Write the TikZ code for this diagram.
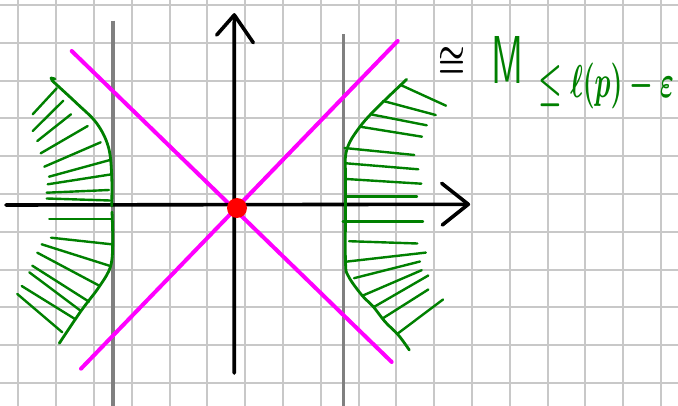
\documentclass[tikz,border=0pt]{standalone}
\usepackage{graphicx}
\definecolor{gridc}{RGB}{200,200,200}
\definecolor{guidec}{RGB}{128,128,128}
\definecolor{conec}{RGB}{255,0,255}
\definecolor{pgreen}{RGB}{0,128,0}
\definecolor{dotc}{RGB}{255,0,0}
\begin{document}
\begin{tikzpicture}[x=1pt,y=-1pt,
  gridline/.style={draw=gridc,line width=2pt},
  axisline/.style={draw=black,line width=3.6pt,line cap=round,line join=round},
  guideline/.style={draw=guidec,line width=3.6pt},
  coneline/.style={draw=conec,line width=4pt,line cap=round},
  bdry/.style={draw=pgreen,line width=2.8pt,line cap=round,line join=round},
  hatchline/.style={draw=pgreen,line width=2.4pt,line cap=round},
  lbl/.style={inner sep=0pt,outer sep=0pt}]
\useasboundingbox (0,0) rectangle (678,406);
\fill[white] (0,0) rectangle (678,406);
% grid
\foreach \i in {0,...,17} \draw[gridline] ({18.3+37.8*\i},0) -- ({18.3+37.8*\i},406);
\foreach \j in {0,...,10} \draw[gridline] (0,{5+37.8*\j}) -- (678,{5+37.8*\j});
% gray vertical guides
\draw[guideline] (112.7,20.7) -- (112.7,406);
\draw[guideline] (343.5,34.3) -- (343.5,406);
% magenta cone
\draw[coneline] (71.7,51) -- (391.7,362);
\draw[coneline] (81,368.7) -- (397.7,41);
% axes
\draw[axisline] (6,205) -- (468.3,204.3);
\draw[axisline] (441.7,183.3) -- (468.3,204.3) -- (442.3,225);
\draw[axisline] (234.2,373) -- (234.3,15);
\draw[axisline] (216.7,35) -- (234.3,15) -- (253.3,42.7);
% left boundary curves
\draw[bdry] (55,79) -- (51,78) -- (52.5,81);
\draw[bdry] plot[smooth,tension=0.6] coordinates {(52.5,81) (76.7,103.3) (96.7,123.3) (108.3,146.7) (111.7,175) (111.7,206)};
\draw[bdry] plot[smooth,tension=0.6] coordinates {(112,212) (112.7,241.5) (110.5,266.5) (99,287) (81,311) (59.3,343.3)};
% left hatches (top)
\draw[hatchline] (56.7,88.3) -- (32.7,114.3);
\draw[hatchline] (63.3,100.7) -- (32.7,131);
\draw[hatchline] (71,114.3) -- (37.3,141);
\draw[hatchline] (87.7,126) -- (40.7,153.3);
\draw[hatchline] (100.7,142.3) -- (44.3,166.7);
\draw[hatchline] (110,160) -- (49,176.7);
\draw[hatchline] (111.7,174.3) -- (47.7,184.3);
\draw[hatchline] (109,190) -- (46.7,192.7);
\draw[hatchline] (110,200.5) -- (46.7,198.5);
% left hatches (bottom)
\draw[hatchline] (49.3,219) -- (111.7,219);
\draw[hatchline] (51,237.7) -- (111.7,244.3);
\draw[hatchline] (41.7,244.3) -- (109.3,265.7);
\draw[hatchline] (37.3,252.7) -- (99.3,285.7);
\draw[hatchline] (32.3,265.7) -- (89,301.7);
\draw[hatchline] (29.3,272.3) -- (81,311);
\draw[hatchline] (21.7,286) -- (75,319);
\draw[hatchline] (17.3,294) -- (62.3,332.3);
% right boundary curve
\draw[bdry] plot[smooth,tension=0.6] coordinates {(406.7,79.3) (385,100) (370,115) (360,126.7) (350,141.7) (345.5,156) (345.5,175) (345.5,206.7) (345.5,262) (348.3,276) (361.7,295) (373.3,306.7) (385,321.7) (398.3,335) (409.3,350)};
% right hatches (top)
\draw[hatchline] (400.7,85) -- (446,105.7);
\draw[hatchline] (383.3,101) -- (435.7,115);
\draw[hatchline] (370.7,114.3) -- (426.7,125.3);
\draw[hatchline] (360,126.7) -- (422,136.7);
\draw[hatchline] (344.5,148) -- (414.3,155);
\draw[hatchline] (346,163.3) -- (418.3,169.3);
\draw[hatchline] (346,179) -- (421.3,183.7);
\draw[hatchline] (346.7,196.7) -- (417,196.7);
% right hatches (bottom)
\draw[hatchline] (342.7,221.5) -- (423,221.5);
\draw[hatchline] (349,241.2) -- (417.3,243.5);
\draw[hatchline] (345,261.8) -- (425.8,252.6);
\draw[hatchline] (354,278.2) -- (420,261.5);
\draw[hatchline] (362.5,295.7) -- (421.7,270.2);
\draw[hatchline] (373.5,307.2) -- (428.3,275.5);
\draw[hatchline] (383,318.2) -- (428.3,289.5);
\draw[hatchline] (397.8,333.5) -- (443,299.5);
% red point
\fill[dotc] (237,208) circle (10);
% label
\node[lbl] (iso) at (451.7,62.5) {\resizebox*{27pt}{30pt}{\boldmath$\cong$}};
\node[lbl,text=pgreen] (mm) at (507.5,60) {\resizebox*{32pt}{47pt}{\sffamily M}};
\node[lbl,text=pgreen,anchor=west] (sub) at (538,86) {\resizebox*{136pt}{46pt}{\boldmath$\leq\ell(p)-\varepsilon$}};
\end{tikzpicture}
\end{document}
